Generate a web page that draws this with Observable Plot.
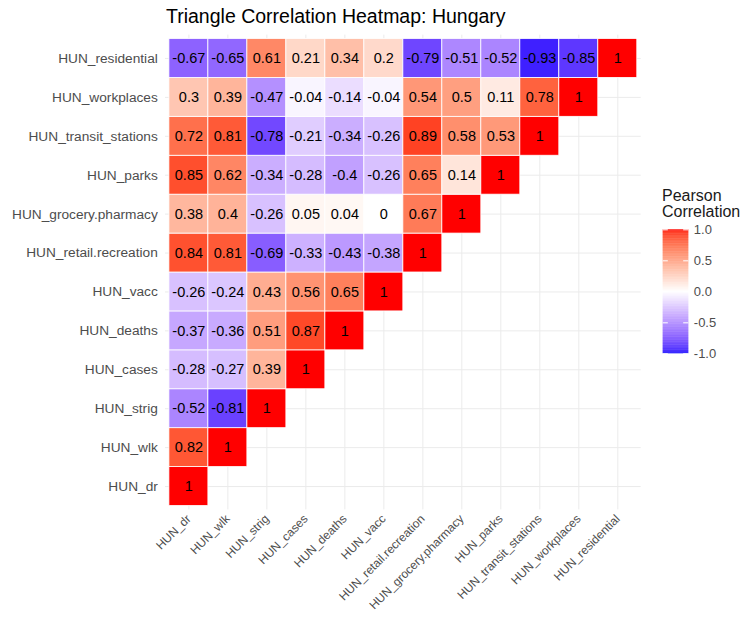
<!DOCTYPE html>
<html>
<head>
<meta charset="utf-8">
<script src="https://cdn.jsdelivr.net/npm/d3@7"></script>
<script src="https://cdn.jsdelivr.net/npm/@observablehq/plot@0.6"></script>
<style>
  html, body { margin: 0; padding: 0; background: #fff; }
  #wrap { position: relative; width: 755px; height: 621px; font-family: "Liberation Sans", Arial, sans-serif; overflow: hidden; }
  #title { position: absolute; left: 166px; top: 6.5px; font-size: 19.5px; line-height: 19.5px; color: #000; white-space: nowrap; }
  #legtitle { position: absolute; left: 662px; top: 188px; font-size: 16px; line-height: 15.5px; color: #1a1a1a; white-space: nowrap; }
  #main { position: absolute; left: 0; top: 0; }
  #legend { position: absolute; left: 655px; top: 0; }
</style>
</head>
<body>
<div id="wrap">
  <div id="main"></div>
  <div id="legend"></div>
  <div id="title">Triangle Correlation Heatmap: Hungary</div>
  <div id="legtitle">Pearson<br>Correlation</div>
</div>
<script>
// Variables in order (x axis left→right, y axis bottom→top)
const vars = ["HUN_dr", "HUN_wlk", "HUN_strig", "HUN_cases", "HUN_deaths", "HUN_vacc",
  "HUN_retail.recreation", "HUN_grocery.pharmacy", "HUN_parks", "HUN_transit_stations",
  "HUN_workplaces", "HUN_residential"];

// Lower-triangle correlations: each row lists r with vars[0..i]
const r_dr = [1];
const r_wlk = [0.82, 1];
const r_strig = [-0.52, -0.81, 1];
const r_cases = [-0.28, -0.27, 0.39, 1];
const r_deaths = [-0.37, -0.36, 0.51, 0.87, 1];
const r_vacc = [-0.26, -0.24, 0.43, 0.56, 0.65, 1];
const r_retail = [0.84, 0.81, -0.69, -0.33, -0.43, -0.38, 1];
const r_grocery = [0.38, 0.4, -0.26, 0.05, 0.04, 0, 0.67, 1];
const r_parks = [0.85, 0.62, -0.34, -0.28, -0.4, -0.26, 0.65, 0.14, 1];
const r_transit = [0.72, 0.81, -0.78, -0.21, -0.34, -0.26, 0.89, 0.58, 0.53, 1];
const r_workplaces = [0.3, 0.39, -0.47, -0.04, -0.14, -0.04, 0.54, 0.5, 0.11, 0.78, 1];
const r_residential = [-0.67, -0.65, 0.61, 0.21, 0.34, 0.2, -0.79, -0.51, -0.52, -0.93, -0.85, 1];

const legendBreaks = [-1, -0.5, 0, 0.5, 1];

const rowsList = [r_dr, r_wlk, r_strig, r_cases, r_deaths, r_vacc, r_retail, r_grocery,
  r_parks, r_transit, r_workplaces, r_residential];

const data = [];
rowsList.forEach((row, i) => {
  row.forEach((v, j) => data.push({x: vars[j], y: vars[i], v}));
});

const colorScale = {
  type: "linear",
  domain: [-1, 1],
  interpolate: d3.piecewise(d3.interpolateLab, ["blue", "white", "red"])
};

const W = 655, H = 621;
const main = Plot.plot({
  width: W, height: H,
  marginLeft: 165, marginRight: W - 640.7, marginTop: 34.6, marginBottom: H - 509.4,
  style: {fontFamily: '"Liberation Sans", Arial, sans-serif', background: "transparent", overflow: "visible"},
  x: {domain: vars, paddingInner: 0, paddingOuter: 0.1, round: false},
  y: {domain: vars.slice().reverse(), paddingInner: 0, paddingOuter: 0.1, round: false},
  color: colorScale,
  marks: [
    Plot.gridX({stroke: "#ebebeb", strokeOpacity: 1, strokeWidth: 1}),
    Plot.gridY({stroke: "#ebebeb", strokeOpacity: 1, strokeWidth: 1}),
    Plot.cell(data, {x: "x", y: "y", fill: "v", stroke: "white", strokeWidth: 0.8, inset: 0}),
    Plot.text(data, {x: "x", y: "y", text: d => String(d.v), fill: "black", fontSize: 14.5}),
    Plot.axisY({tickSize: 0, tickPadding: 7.7, fontSize: 13.7, fill: "#4d4d4d", label: null}),
    Plot.axisX({tickSize: 0, tickPadding: 7, tickRotate: -45, fontSize: 12, fill: "#4d4d4d", label: null})
  ]
});
document.getElementById("main").appendChild(main);

// Colour bar legend
const steps = d3.range(-1, 1, 0.01);
const LW = 100;
const legend = Plot.plot({
  width: LW, height: H,
  marginLeft: 7.7, marginRight: LW - 7.7 - 25.6, marginTop: 229.3, marginBottom: H - 353.3,
  style: {fontFamily: '"Liberation Sans", Arial, sans-serif', background: "transparent", overflow: "visible"},
  x: {domain: [0, 1], axis: null},
  y: {domain: [-1, 1], axis: null},
  color: colorScale,
  marks: [
    Plot.rect(steps, {x1: 0, x2: 1, y1: d => d, y2: d => Math.min(1, d + 0.013), fill: d => d + 0.005}),
    Plot.ruleY(legendBreaks, {x1: 0, x2: 0.2, stroke: "white", strokeWidth: 1}),
    Plot.ruleY(legendBreaks, {x1: 0.8, x2: 1, stroke: "white", strokeWidth: 1}),
    Plot.text(legendBreaks, {x: 1, y: d => d, text: d => d.toFixed(1), dx: 5, textAnchor: "start", fontSize: 13, fill: "#4d4d4d"})
  ]
});
document.getElementById("legend").appendChild(legend);
</script>
</body>
</html>
